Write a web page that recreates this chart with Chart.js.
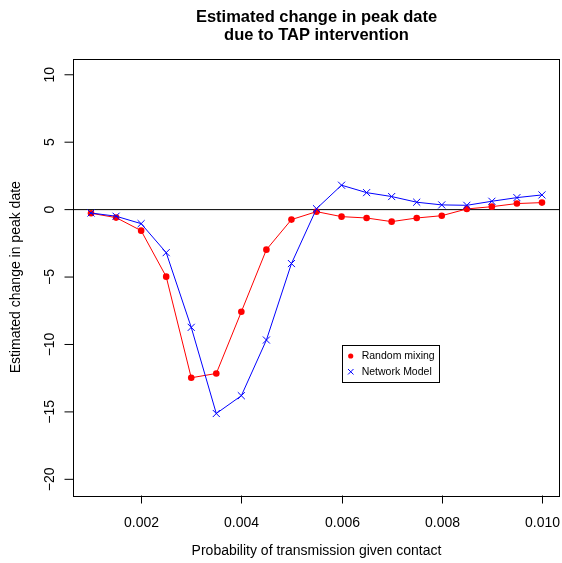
<!DOCTYPE html>
<html>
<head>
<meta charset="utf-8">
<script src="https://cdn.jsdelivr.net/npm/chart.js@4/dist/chart.umd.min.js"></script>
<style>
  html, body { margin: 0; padding: 0; background: #ffffff; }
  #wrap { width: 562px; height: 563px; }
</style>
</head>
<body>
<div id="wrap"><canvas id="c" width="562" height="563"></canvas></div>
<script>
const transmissionProb = [0.001, 0.0015, 0.002, 0.0025, 0.003, 0.0035, 0.004, 0.0045, 0.005, 0.0055,
                          0.006, 0.0065, 0.007, 0.0075, 0.008, 0.0085, 0.009, 0.0095, 0.010];
const randomMixing = [-0.27, -0.59, -1.56, -4.97, -12.47, -12.15, -7.57, -2.97, -0.74, -0.15,
                      -0.52, -0.62, -0.89, -0.62, -0.45, 0.05, 0.22, 0.45, 0.52];
const networkModel = [-0.25, -0.49, -1.04, -3.19, -8.73, -15.12, -13.8, -9.67, -4.0, 0.07,
                      1.81, 1.26, 0.97, 0.55, 0.35, 0.32, 0.62, 0.89, 1.09];
const xTicks = [0.002, 0.004, 0.006, 0.008, 0.010];
const xTickLabels = ["0.002", "0.004", "0.006", "0.008", "0.010"];
const yTicks = [-20, -15, -10, -5, 0, 5, 10];
const yTickLabels = ["\u221220", "\u221215", "\u221210", "\u22125", "0", "5", "10"];
const titleLines = ["Estimated change in peak date", "due to TAP intervention"];
const xTitle = "Probability of transmission given contact";
const yTitle = "Estimated change in peak date";
const seriesNames = ["Random mixing", "Network Model"];

const FONT = '"Liberation Sans", Arial, Helvetica, sans-serif';

const zeroLine = {
  id: 'zeroLine',
  beforeDatasetsDraw(chart) {
    const ctx = chart.ctx, a = chart.chartArea, y = chart.scales.y.getPixelForValue(0);
    ctx.save();
    ctx.strokeStyle = '#000';
    ctx.lineWidth = 1;
    ctx.beginPath();
    ctx.moveTo(a.left, y);
    ctx.lineTo(a.right, y);
    ctx.stroke();
    ctx.restore();
  }
};

const decorations = {
  id: 'decorations',
  afterDraw(chart) {
    const ctx = chart.ctx, a = chart.chartArea;
    const xs = chart.scales.x, ys = chart.scales.y;
    ctx.save();
    // box
    ctx.strokeStyle = '#000';
    ctx.lineWidth = 1;
    ctx.strokeRect(Math.round(a.left) + 0.5, Math.round(a.top) + 0.5,
                   Math.round(a.right - a.left) - 1, Math.round(a.bottom - a.top));
    // x ticks
    ctx.fillStyle = '#000';
    ctx.font = '14px ' + FONT;
    ctx.textAlign = 'center';
    ctx.textBaseline = 'alphabetic';
    xTicks.forEach((v, i) => {
      const px = Math.round(xs.getPixelForValue(v)) + 0.5;
      ctx.beginPath();
      ctx.moveTo(px, a.bottom);
      ctx.lineTo(px, a.bottom + 8);
      ctx.stroke();
      ctx.fillText(xTickLabels[i], px, 526.5);
    });
    // y ticks
    yTicks.forEach((v, i) => {
      const py = ys.getPixelForValue(v);
      ctx.beginPath();
      ctx.moveTo(a.left, py);
      ctx.lineTo(a.left - 8.5, py);
      ctx.stroke();
      ctx.save();
      ctx.translate(53.5, py);
      ctx.rotate(-Math.PI / 2);
      ctx.textAlign = 'center';
      ctx.fillText(yTickLabels[i], 0, 0);
      ctx.restore();
    });
    // axis titles
    ctx.fillText(xTitle, (a.left + a.right) / 2, 555);
    ctx.save();
    ctx.translate(20, (a.top + a.bottom) / 2);
    ctx.rotate(-Math.PI / 2);
    ctx.fillText(yTitle, 0, 0);
    ctx.restore();
    // main title
    ctx.font = 'bold 16.5px ' + FONT;
    ctx.fillText(titleLines[0], (a.left + a.right) / 2, 21.8);
    ctx.fillText(titleLines[1], (a.left + a.right) / 2, 40.3);
    // legend
    const lx = 342.5, ly = 345.5, lw = 97, lh = 37;
    ctx.fillStyle = '#fff';
    ctx.fillRect(lx, ly, lw, lh);
    ctx.strokeStyle = '#000';
    ctx.strokeRect(lx, ly, lw, lh);
    ctx.fillStyle = '#ff0000';
    ctx.beginPath();
    ctx.arc(350.7, 356, 2.6, 0, Math.PI * 2);
    ctx.fill();
    ctx.strokeStyle = '#0000ff';
    ctx.lineWidth = 1;
    ctx.beginPath();
    ctx.moveTo(348, 369); ctx.lineTo(353.5, 374.5);
    ctx.moveTo(353.5, 369); ctx.lineTo(348, 374.5);
    ctx.stroke();
    ctx.fillStyle = '#000';
    ctx.font = '10.5px ' + FONT;
    ctx.textAlign = 'left';
    ctx.textBaseline = 'middle';
    ctx.fillText(seriesNames[0], 361.7, 356.5);
    ctx.fillText(seriesNames[1], 361.7, 372);
    ctx.restore();
  }
};

new Chart(document.getElementById('c'), {
  type: 'line',
  data: {
    datasets: [
      {
        label: seriesNames[1],
        data: transmissionProb.map((x, i) => ({ x: x, y: networkModel[i] })),
        borderColor: '#0000ff',
        backgroundColor: '#0000ff',
        borderWidth: 1,
        pointStyle: 'crossRot',
        pointRadius: 5,
        pointBorderWidth: 1,
        pointBorderColor: '#0000ff',
        tension: 0,
        fill: false,
        order: 0
      },
      {
        label: seriesNames[0],
        data: transmissionProb.map((x, i) => ({ x: x, y: randomMixing[i] })),
        borderColor: '#ff0000',
        backgroundColor: '#ff0000',
        borderWidth: 1,
        pointStyle: 'circle',
        pointRadius: 3.3,
        pointBorderWidth: 0,
        tension: 0,
        fill: false,
        order: 1
      }
    ]
  },
  options: {
    responsive: false,
    animation: false,
    devicePixelRatio: 1,
    layout: { autoPadding: false, padding: { left: 73, top: 59, right: 2, bottom: 67.5 } },
    plugins: { legend: { display: false }, tooltip: { enabled: false }, title: { display: false } },
    scales: {
      x: { type: 'linear', min: 0.00064, max: 0.01036, display: false },
      y: { type: 'linear', min: -21.2, max: 11.17, display: false }
    }
  },
  plugins: [zeroLine, decorations]
});
</script>
</body>
</html>
